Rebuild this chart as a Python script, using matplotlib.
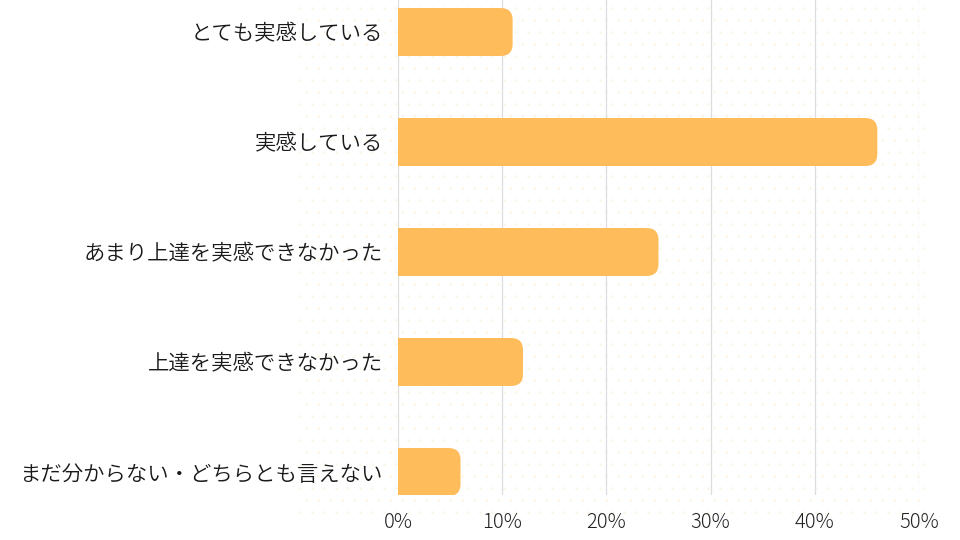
import numpy as np
import matplotlib.pyplot as plt
from matplotlib.patches import FancyBboxPatch, Rectangle

plt.rcParams['font.family'] = ['Noto Sans CJK JP', 'DejaVu Sans']

# データ
categories = ['とても実感している', '実感している', 'あまり上達を実感できなかった',
              '上達を実感できなかった', 'まだ分からない・どちらとも言えない']
values = [11, 46, 25, 12, 6]
xticks = [0, 10, 20, 30, 40, 50]
xtick_labels = ['0%', '10%', '20%', '30%', '40%', '50%']

bar_color = '#FFBC5A'
text_color = '#1A1A1A'

fig = plt.figure(figsize=(9.6, 5.4), dpi=100)

# 背景の薄いドット模様（装飾）
bg = fig.add_axes([0, 0, 1, 1], zorder=0)
bg.set_xlim(0, 960)
bg.set_ylim(540, 0)
bg.axis('off')
gx, gy = [], []
for j, y in enumerate(range(8, 515, 12)):
    off = 6 if j % 2 else 0
    for x in range(300 + off, 925, 12):
        gx.append(x)
        gy.append(y)
bg.scatter(gx, gy, s=4, color='#FEF5EA', linewidths=0)

ax = fig.add_axes([398 / 960, 45 / 540, 521 / 960, 495 / 540], zorder=1)
ax.patch.set_alpha(0)

ax.set_xlim(0, 50)
ax.set_ylim(len(categories) - 1 + 0.209, -0.291)

# 角丸バー（右端のみ）
h = 0.436
r = 1.15
aspect = 0.109 / 1.15
for i, v in enumerate(values):
    ax.add_patch(FancyBboxPatch((0, i - h / 2), v, h,
                                boxstyle=f'round,pad=0,rounding_size={r}',
                                mutation_aspect=aspect,
                                facecolor=bar_color, edgecolor='none', zorder=3))
    ax.add_patch(Rectangle((0, i - h / 2), v - r, h,
                           facecolor=bar_color, edgecolor='none', zorder=3))

ax.set_xticks(xticks)
ax.set_xticklabels(xtick_labels, fontsize=14.5, color='#222222', fontweight='light')
ax.set_yticks(range(len(categories)))
ax.set_yticklabels(categories, fontsize=15.4, color=text_color, fontweight=350)
ax.tick_params(axis='both', length=0)
ax.tick_params(axis='y', pad=11)
ax.tick_params(axis='x', pad=12)

ax.grid(axis='x', color='#DDDDDD', linewidth=0.9, zorder=1)
ax.set_axisbelow(True)
for s in ax.spines.values():
    s.set_visible(False)

fig.savefig('out.png', dpi=100)
